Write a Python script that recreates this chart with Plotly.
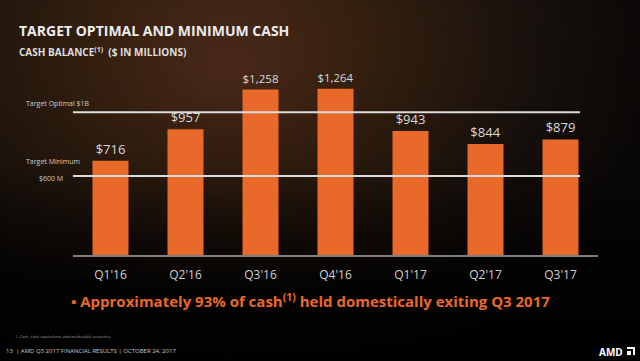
import base64
import plotly.graph_objects as go

# ---- data ----
quarters = ["Q1'16", "Q2'16", "Q3'16", "Q4'16", "Q1'17", "Q2'17", "Q3'17"]
cash = [716, 957, 1258, 1264, 943, 844, 879]
cash_labels = ["$716", "$957", "$1,258", "$1,264", "$943", "$844", "$879"]
target_names = ["Target Optimal $1B", "Target Minimum"]
target_levels = [1085, 600]   # as drawn on the slide

ORANGE = "#E8692A"
FONT = "Open Sans"

svg = """<svg xmlns='http://www.w3.org/2000/svg' width='640' height='361'>
<defs>
<radialGradient id='g' cx='230' cy='70' r='420' gradientUnits='userSpaceOnUse' gradientTransform='translate(230 70) scale(1 0.75) translate(-230 -70)'>
<stop offset='0' stop-color='#4e2b1b'/>
<stop offset='0.35' stop-color='#35200f'/>
<stop offset='0.7' stop-color='#1a120d'/>
<stop offset='1' stop-color='#0a0807'/>
</radialGradient>
<linearGradient id='v' x1='0' y1='0' x2='0' y2='1'>
<stop offset='0' stop-color='#000' stop-opacity='0'/>
<stop offset='0.45' stop-color='#000' stop-opacity='0.15'/>
<stop offset='0.78' stop-color='#000' stop-opacity='0.8'/>
<stop offset='1' stop-color='#000' stop-opacity='0.9'/>
</linearGradient>
</defs>
<rect width='640' height='361' fill='url(#g)'/>
<rect width='640' height='361' fill='url(#v)'/>
</svg>"""
bg_uri = "data:image/svg+xml;base64," + base64.b64encode(svg.encode()).decode()

W, H = 640, 361
L, R, T, B = 73, 42, 60, 106
pw, ph = W - L - R, H - T - B

fig = go.Figure()
fig.add_trace(go.Bar(
    x=quarters, y=cash, text=cash_labels, textposition="outside",
    textfont=dict(color="#d9d9d9", size=13, family=FONT),
    marker=dict(color=ORANGE, line=dict(width=0)),
    cliponaxis=False, hoverinfo="skip",
))

for lvl in target_levels:
    fig.add_shape(type="line", xref="x", yref="y", x0=-0.52, x1=6.26,
                  y0=lvl, y1=lvl, line=dict(color="#dcdcdc", width=2), layer="above")

ann = []
def txt(x, y, s, size, color="#d0d0d0", bold=False, xanchor="left", family=FONT):
    if bold:
        s = "<b>" + s + "</b>"
    ann.append(dict(xref="paper", yref="paper", x=(x - L) / pw, y=1 - (y - T) / ph,
                    text=s, showarrow=False, xanchor=xanchor, yanchor="middle",
                    font=dict(size=size, color=color, family=family)))

txt(17, 30, "TARGET OPTIMAL AND MINIMUM CASH", 14, "#ececec", True)
txt(17, 52, "CASH BALANCE<sup>(1)</sup>  ($ IN MILLIONS)", 10, "#dedede", True)
txt(24, 103, target_names[0], 7, "#cfcfcf")
txt(24, 161, target_names[1], 7, "#cfcfcf")
txt(37, 178, "$600 M", 7, "#cfcfcf")
txt(69, 300, "▪ Approximately 93% of cash<sup>(1)</sup> held domestically exiting Q3 2017",
    15, ORANGE, True)
txt(13, 336, "1. Cash, cash equivalents and marketable securities", 4, "#a0a0a0")
txt(4, 351, "13  | AMD Q3 2017 FINANCIAL RESULTS | OCTOBER 24, 2017", 6, "#c8c8c8")
txt(625, 352, "AMD", 10, "#ffffff", True, xanchor="right")

fig.update_layout(
    width=W, height=H,
    margin=dict(l=L, r=R, t=T, b=B, pad=0),
    paper_bgcolor="#0b0908", plot_bgcolor="rgba(0,0,0,0)",
    showlegend=False, bargap=0.52,
    annotations=ann,
    images=[dict(source=bg_uri, xref="paper", yref="paper",
                 x=-L / pw, y=1 + T / ph, sizex=W / pw, sizey=H / ph,
                 xanchor="left", yanchor="top", sizing="stretch", layer="below")],
    xaxis=dict(showgrid=False, zeroline=False, showline=True, linecolor="#808080",
               linewidth=1.5, tickfont=dict(color="#cfcfcf", size=12, family=FONT),
               ticks="", ticklabelstandoff=8, range=[-0.5, 6.5], fixedrange=True),
    yaxis=dict(range=[0, ph / 0.1315], visible=False, fixedrange=True),
)

def px(x): return (x - L) / pw
def py(y): return 1 - (y - T) / ph
fig.add_shape(type="path", xref="paper", yref="paper",
              path=f"M {px(627)} {py(347)} L {px(635)} {py(347)} L {px(635)} {py(355)} "
                   f"L {px(633)} {py(355)} L {px(633)} {py(349)} L {px(627)} {py(349)} Z",
              fillcolor="#ffffff", line=dict(width=0))
fig.add_shape(type="path", xref="paper", yref="paper",
              path=f"M {px(627)} {py(351)} L {px(631)} {py(351)} L {px(631)} {py(355)} "
                   f"L {px(627)} {py(355)} Z",
              fillcolor="#ffffff", line=dict(width=0))

fig.write_html("out.html", config={"displayModeBar": False},
               post_script="document.body.style.margin='0';document.body.style.overflow='hidden';")
